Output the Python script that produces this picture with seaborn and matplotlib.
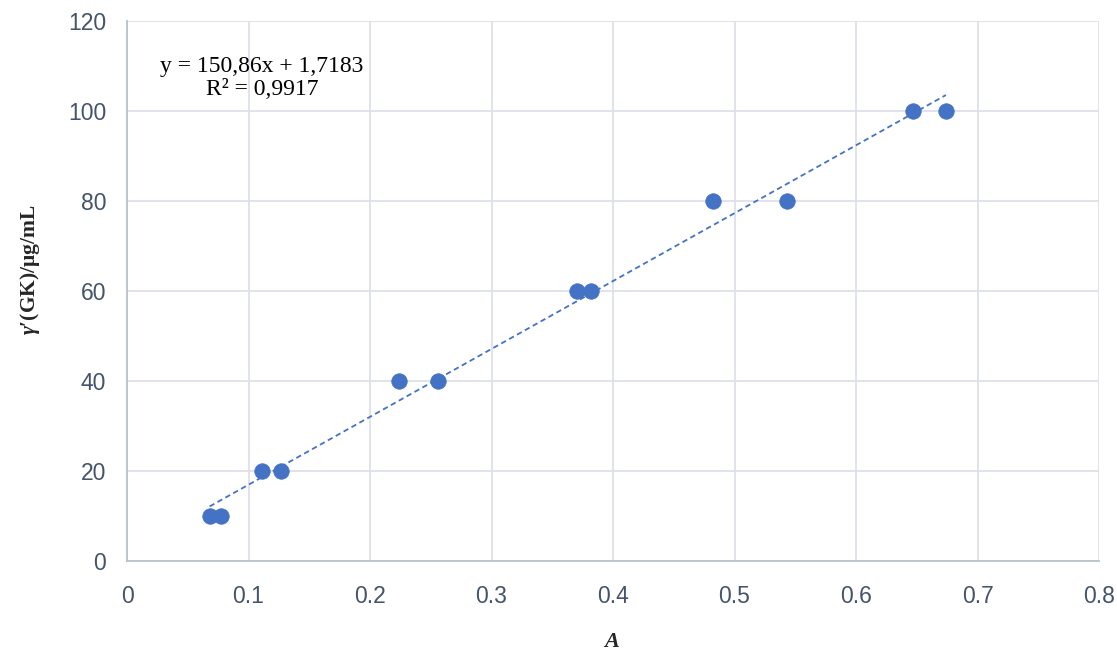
import matplotlib

matplotlib.use('Agg')
import numpy as np
import pandas as pd
import matplotlib.pyplot as plt
import seaborn as sns

# 数据：吸光度 A 与浓度 γ(GK)
absorbance = [0.068, 0.077, 0.111, 0.127, 0.224, 0.256, 0.370, 0.382, 0.482, 0.543, 0.647, 0.674]
concentration = [10, 10, 20, 20, 40, 40, 60, 60, 80, 80, 100, 100]
x_ticks = [0, 0.1, 0.2, 0.3, 0.4, 0.5, 0.6, 0.7, 0.8]
y_ticks = [0, 20, 40, 60, 80, 100, 120]
equation_text = "y = 150,86x + 1,7183\nR² = 0,9917"

df = pd.DataFrame({'A': absorbance, 'gamma': concentration})

sns.set_theme(style='whitegrid')
plt.rcParams['font.family'] = ['Liberation Sans', 'DejaVu Sans']
plt.rcParams['mathtext.fontset'] = 'custom'
plt.rcParams['mathtext.bfit'] = 'Liberation Serif:bold:italic'

fig, ax = plt.subplots(figsize=(11.17, 6.51), dpi=100)
fig.subplots_adjust(left=0.1137, right=0.9839, top=0.9677, bottom=0.1382)

# 线性趋势线
k, b = np.polyfit(df['A'], df['gamma'], 1)
xs = np.array([df['A'].min(), df['A'].max()])
ax.plot(xs, k * xs + b, color='#4472C4', linestyle=(0, (3, 2)), linewidth=1.3, zorder=2)

sns.scatterplot(data=df, x='A', y='gamma', ax=ax, color='#4472C4', s=125,
                edgecolor='#4472C4', linewidth=0.5, zorder=3)

ax.set_xlim(0, 0.8)
ax.set_ylim(0, 120)
ax.set_xticks(x_ticks)
ax.set_yticks(y_ticks)
ax.set_xticklabels([f"{t:g}" for t in x_ticks])
ax.set_yticklabels([str(t) for t in y_ticks])
ax.tick_params(axis='both', labelsize=16.5, colors='#44546A', length=0)
ax.tick_params(axis='y', pad=15)
ax.tick_params(axis='x', pad=17)

ax.grid(True, color='#DDE1E8', linewidth=1.3)
for side in ['top', 'right']:
    ax.spines[side].set_visible(False)
for side in ['bottom', 'left']:
    ax.spines[side].set_color('#B8C0CC')
    ax.spines[side].set_linewidth(1.3)

ax.set_xlabel('A', fontsize=16, fontweight='bold', fontstyle='italic',
              family=['Liberation Serif'], va='center')
ax.xaxis.set_label_coords(0.499, -0.15)
ax.set_ylabel(r"$\mathbfit{\gamma}$′(GK)/μg/mL", fontsize=15.5, fontweight='bold',
              family=['Liberation Serif'], va='center')
ax.yaxis.set_label_coords(-0.1, 0.54)

ax.text(0.111, 107.4, equation_text, ha='center', va='center', fontsize=17,
        family=['Liberation Serif'], linespacing=1.15, color='black')

plt.savefig('out.png')
plt.close()
